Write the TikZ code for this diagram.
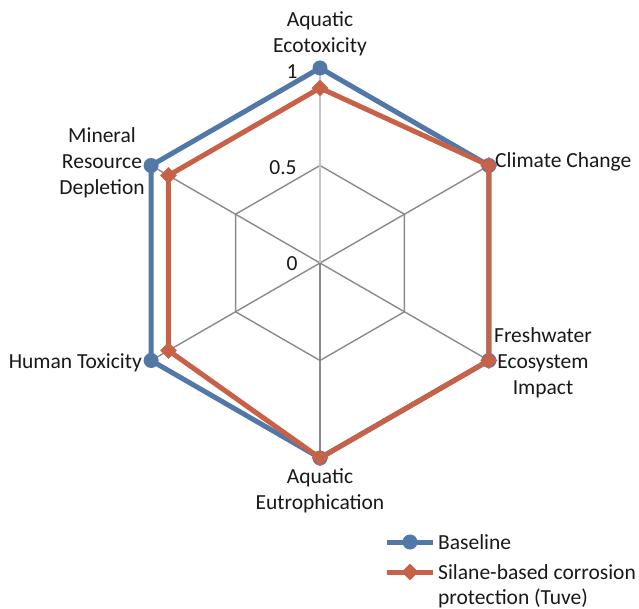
\documentclass[tikz,border=0pt]{standalone}
\usepackage{fontspec}
\setmainfont{Carlito}
\usetikzlibrary{shapes.geometric}
\definecolor{baseblue}{RGB}{82,120,168}
\definecolor{silred}{RGB}{199,98,72}
\definecolor{gridgray}{RGB}{138,138,138}
\definecolor{axisgray}{RGB}{196,196,196}
\tikzset{
  lbl/.style={font=\fontsize{21.5}{26}\selectfont, text=black!90, inner sep=0pt},
  gridline/.style={draw=gridgray, line width=1.4pt},
  basestyle/.style={draw=baseblue, line width=5pt, line join=round},
  silstyle/.style={draw=silred, line width=5pt, line join=round},
  basemark/.style={circle, fill=baseblue, minimum size=15pt, inner sep=0pt},
  silmark/.style={diamond, fill=silred, minimum size=17pt, inner sep=0pt},
}
\begin{document}
\begin{tikzpicture}[x=1pt,y=1pt]
\useasboundingbox[fill=white] (-320,-345) rectangle (319,263);
\coordinate (c) at (0,0);
% grid
\foreach \a in {90,30,-30,-90,-150,150}{
  \coordinate (g\a) at (\a:195);
  \coordinate (h\a) at (\a:97.5);
}
\draw[gridline] (h90) -- (h30) -- (h-30) -- (h-90) -- (h-150) -- (h150) -- cycle;
\draw[gridline] (g90) -- (g30) -- (g-30) -- (g-90) -- (g-150) -- (g150) -- cycle;
\foreach \a in {30,-30,-90,-150,150}{ \draw[gridline] (c) -- (g\a); }
\draw[draw=axisgray, line width=1.8pt] (c) -- (g90);
% data
\coordinate (b1) at (90:195);
\coordinate (b2) at (30:195);
\coordinate (b3) at (-30:195);
\coordinate (b4) at (-90:195);
\coordinate (b5) at (-150:195);
\coordinate (b6) at (150:195);
\coordinate (s1) at (90:175);
\coordinate (s2) at (30:195);
\coordinate (s3) at (-30:195);
\coordinate (s4) at (-90:195);
\coordinate (s5) at (-150:175);
\coordinate (s6) at (150:175);
\draw[basestyle] (b1) -- (b2) -- (b3) -- (b4) -- (b5) -- (b6) -- cycle;
\foreach \i in {1,...,6}{ \node[basemark] (bm\i) at (b\i) {}; }
\draw[silstyle] (s1) -- (s2) -- (s3) -- (s4) -- (s5) -- (s6) -- cycle;
\foreach \i in {1,...,6}{ \node[silmark] (sm\i) at (s\i) {}; }
% axis values
\node[lbl] (v1) at (-28,191) {1};
\node[lbl] (v05) at (-37,95) {0.5};
\node[lbl] (v0) at (-28,-1) {0};
% category labels
\node[lbl, align=center] (lae) at (0,229) {Aquatic\\Ecotoxicity};
\node[lbl, anchor=west] (lcc) at (175,101) {Climate Change};
\node[lbl, align=center] (lfe) at (223,-100) {Freshwater\\Ecosystem\\Impact};
\node[lbl, align=center] (leu) at (0,-228) {Aquatic\\Eutrophication};
\node[lbl, anchor=east] (lht) at (-178,-100) {Human Toxicity};
\node[lbl, align=center] (lmr) at (-218,100) {Mineral\\Resource\\Depletion};
% legend
\coordinate (la1) at (67,-279);
\coordinate (la2) at (113,-279);
\draw[draw=baseblue, line width=5pt] (la1) -- (la2);
\node[basemark] (lbm) at (90,-279) {};
\node[lbl, anchor=west] (lbt) at (118,-279) {Baseline};
\coordinate (lb1) at (67,-309);
\coordinate (lb2) at (113,-309);
\draw[draw=silred, line width=5pt] (lb1) -- (lb2);
\node[silmark] (lsm) at (90,-309) {};
\node[lbl, anchor=west] (lst) at (118,-309) {Silane-based corrosion};
\node[lbl, anchor=west] (lst2) at (118,-335) {protection (Tuve)};
\end{tikzpicture}
\end{document}
